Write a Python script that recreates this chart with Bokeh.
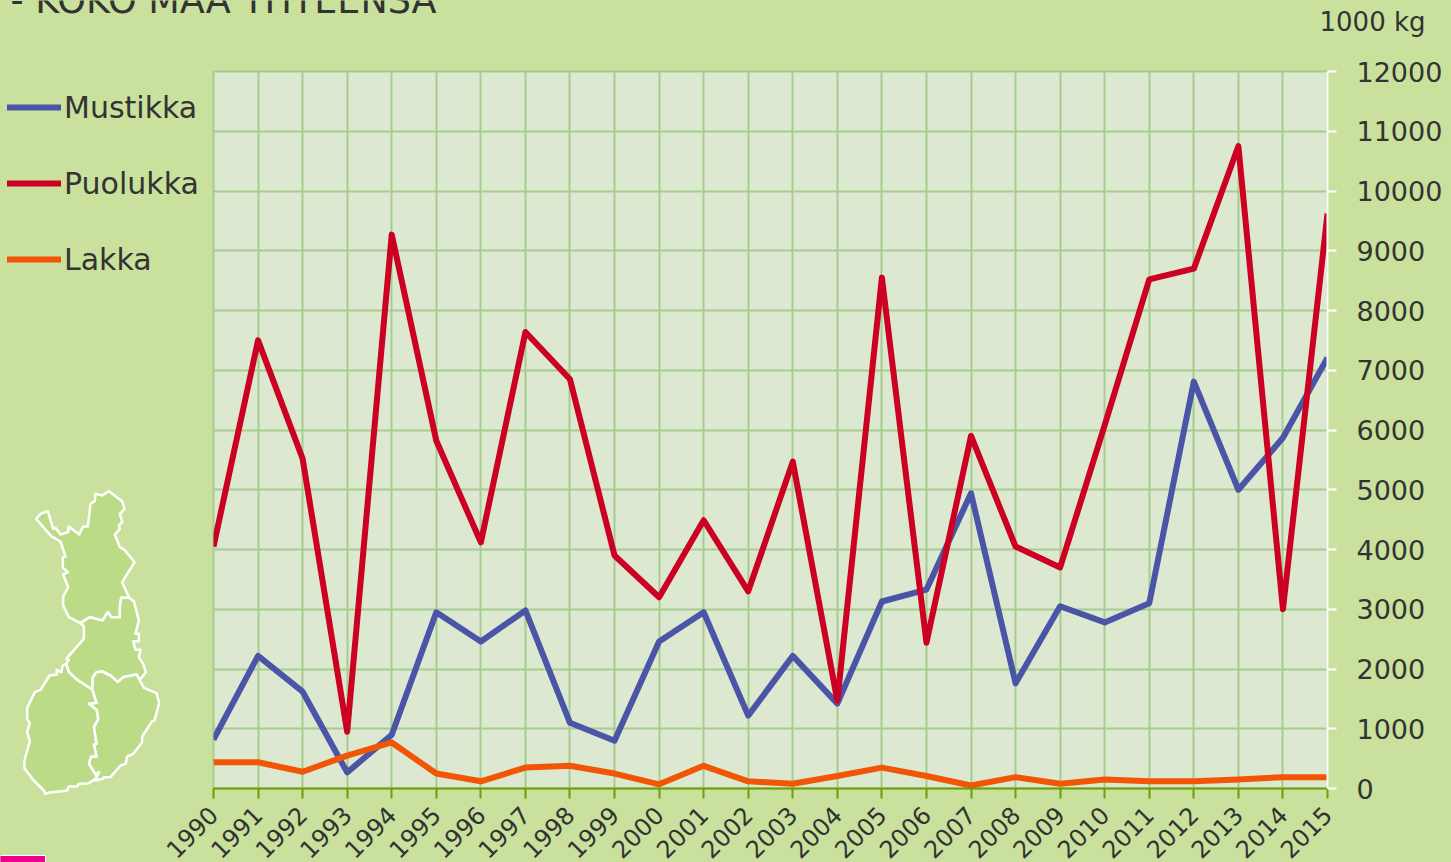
from math import pi
from bokeh.plotting import figure
from bokeh.models import (FixedTicker, BasicTickFormatter, Legend, LegendItem, Range1d)
from bokeh.core.properties import value
from bokeh.embed import file_html
from bokeh.resources import INLINE

years = list(range(1990, 2016))
mustikka = [820, 2220, 1620, 270, 900, 2950, 2460, 2980, 1100, 800, 2460, 2950, 1220,
            2220, 1420, 3130, 3330, 4940, 1760, 3050, 2780, 3100, 6810, 5000, 5870, 7210]
puolukka = [4050, 7500, 5520, 950, 9270, 5820, 4120, 7640, 6850, 3900, 3200, 4490, 3300,
            5470, 1470, 8550, 2440, 5900, 4050, 3700, 6080, 8520, 8700, 10750, 3000, 9620]
lakka = [440, 440, 280, 550, 770, 250, 120, 350, 380, 250, 70, 380, 120,
         80, 210, 350, 210, 50, 190, 80, 150, 120, 120, 150, 190, 190]
y_ticks = list(range(0, 13000, 1000))
title_text = "- KOKO MAA YHTEENSÄ"
unit_text = "1000 kg"

BG = "#c9e19c"
PLOT_BG = "#dce8d0"
GRID = "#a6cc8f"
TEXT = "#333333"
MAP_FILL = "#bcdb87"
FONT = "DejaVu Sans"
BLUE, RED, ORANGE = "#4a55a8", "#cc0022", "#f25505"

# Decorative map of Finland (outline pixels of the reference, scaled 3x, offset y 470)
lappi = [(107,145),(120,130),(142,122),(158,175),(165,172),(180,192),(203,185),(205,168),(236,192),(248,168),(262,168),(270,100),(283,92),(285,70),(305,75),(325,62),(365,92),(372,115),(358,130),(365,155),(355,165),(358,175),(343,192),(358,230),(372,238),(402,275),(365,335),(386,382),(362,382),(358,410),(358,440),(332,440),(322,425),(306,450),(268,440),(240,458),(205,440),(188,405),(188,378),(203,350),(188,312),(203,305),(187,292),(187,260),(195,258),(180,213),(152,197)]
keski = [(240,458),(268,440),(306,450),(322,425),(332,440),(358,440),(358,410),(362,382),(386,382),(400,392),(415,450),(405,490),(415,490),(415,512),(398,512),(405,538),(420,538),(415,560),(428,580),(436,605),(418,628),(408,612),(368,620),(352,635),(330,615),(305,603),(288,605),(277,620),(275,657),(230,628),(205,605),(197,580),(205,568),(197,565),(250,505),(250,468)]
kaakko = [(275,657),(277,620),(288,605),(305,603),(330,615),(352,635),(368,620),(408,612),(430,652),(468,668),(476,698),(462,750),(455,752),(425,798),(425,815),(398,850),(380,858),(375,880),(360,885),(330,920),(310,920),(308,925),(285,930),(295,905),(285,912),(265,880),(272,858),(288,858),(280,822),(288,820),(280,770),(293,745),(288,718),(265,700),(288,697)]
lounas = [(197,580),(205,605),(230,628),(275,657),(288,697),(265,700),(288,718),(293,745),(280,770),(288,820),(280,822),(288,858),(272,858),(265,880),(285,912),(295,905),(285,925),(265,938),(235,940),(230,947),(205,948),(200,960),(185,962),(150,965),(135,970),(130,960),(100,930),(72,893),(72,870),(88,812),(80,785),(88,758),(80,745),(80,712),(103,665),(120,658),(147,615),(170,612),(168,598),(182,605),(187,585)]

# Page layer: a full-window figure in pixel coordinates, beneath the chart
bg = figure(width=1451, height=862, output_backend="svg", toolbar_location=None,
            x_range=Range1d(0, 1451), y_range=Range1d(862, 0),
            x_axis_type=None, y_axis_type=None,
            min_border=0, background_fill_color=BG, border_fill_color=BG,
            outline_line_color=None)
bg.grid.visible = False

shapes = (lappi, keski, kaakko, lounas)
bg.patches([[a / 3 for a, _ in s] for s in shapes],
           [[470 + b / 3 for _, b in s] for s in shapes],
           fill_color=MAP_FILL, line_color="white", line_width=2.5, line_join="round")
bg.quad(left=[-5], right=[45], top=[855], bottom=[870],
        fill_color="#ec008c", line_color="white", line_width=1)
bg.text([10], [0], text=[title_text], text_font=value(FONT), text_font_size="36.5px",
        text_color=TEXT, text_baseline="alphabetic")
bg.text([1319], [21], text=[unit_text], text_font=value(FONT), text_font_size="26px",
        text_color=TEXT, text_baseline="alphabetic")

# Legend keys: the same series, which fall outside this layer's pixel range
k1 = bg.line(years, mustikka, line_color=BLUE, line_width=6, line_cap="round")
k2 = bg.line(years, puolukka, line_color=RED, line_width=6, line_cap="round")
k3 = bg.line(years, lakka, line_color=ORANGE, line_width=6, line_cap="round")
legend = Legend(items=[LegendItem(label="Mustikka", renderers=[k1]),
                       LegendItem(label="Puolukka", renderers=[k2]),
                       LegendItem(label="Lakka", renderers=[k3])],
                location=(7, 584), orientation="vertical",
                background_fill_alpha=0, border_line_color=None,
                padding=0, margin=0, spacing=38,
                glyph_width=54, glyph_height=38, label_height=38, label_width=130,
                label_standoff=3, label_text_font=FONT, label_text_font_size="30px",
                label_text_color=TEXT)
bg.add_layout(legend, "center")

# Chart layer
p = figure(width=1451, height=878, output_backend="svg", toolbar_location=None,
           x_range=Range1d(1990, 2015), y_range=Range1d(0, 12000),
           y_axis_location="right",
           min_border_left=213, min_border_right=124, min_border_top=71, min_border_bottom=90,
           background_fill_color=PLOT_BG, border_fill_alpha=0,
           outline_line_color=GRID, outline_line_width=2)
p.styles = {"position": "absolute", "left": "0", "top": "0"}

p.xaxis.ticker = FixedTicker(ticks=years)
p.xaxis.formatter = BasicTickFormatter(use_scientific=False)
p.xaxis.major_label_orientation = pi / 4
p.xaxis.axis_line_color = "#6aa000"
p.xaxis.axis_line_width = 2
p.xaxis.major_tick_line_color = "#6aa000"
p.xaxis.major_tick_line_width = 2
p.xaxis.major_tick_in = 0
p.xaxis.major_tick_out = 10
p.xaxis.minor_tick_line_color = None
p.xaxis.major_label_text_font = FONT
p.xaxis.major_label_text_font_size = "24px"
p.xaxis.major_label_text_color = TEXT
p.xaxis.major_label_standoff = 12

p.yaxis.ticker = FixedTicker(ticks=y_ticks)
p.yaxis.axis_line_color = "white"
p.yaxis.axis_line_width = 2
p.yaxis.major_tick_line_color = "white"
p.yaxis.major_tick_line_width = 2
p.yaxis.major_tick_in = 0
p.yaxis.major_tick_out = 9
p.yaxis.minor_tick_line_color = None
p.yaxis.major_label_text_font = FONT
p.yaxis.major_label_text_font_size = "27px"
p.yaxis.major_label_text_color = TEXT
p.yaxis.major_label_standoff = 20

p.xgrid.ticker = FixedTicker(ticks=years)
p.ygrid.ticker = FixedTicker(ticks=y_ticks)
for g in (p.xgrid, p.ygrid):
    g.grid_line_color = GRID
    g.grid_line_width = 2

p.line(years, mustikka, line_color=BLUE, line_width=6, line_join="round")
p.line(years, puolukka, line_color=RED, line_width=6, line_join="round")
p.line(years, lakka, line_color=ORANGE, line_width=6, line_join="round")

html = file_html([bg, p], INLINE)
style = "<style>html,body{margin:0 !important;padding:0;background:" + BG + ";overflow:hidden}</style>"
html = html.replace("<head>", "<head>" + style, 1)
open("out.html", "w").write(html)
